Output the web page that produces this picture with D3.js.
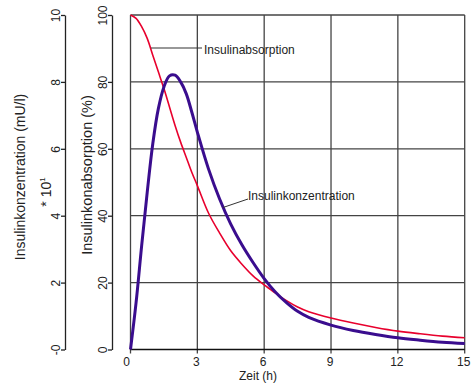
<!DOCTYPE html>
<html>
<head>
<meta charset="utf-8">
<script src="https://cdn.jsdelivr.net/npm/d3@7"></script>
<style>
  body { margin: 0; background: #fff; }
  svg { font-family: "Liberation Sans", Arial, sans-serif; }
  .axis path, .axis line { stroke: #222; }
  .axis text { fill: #222; font-size: 12px; }
</style>
</head>
<body>
<div class="chart"></div>
<script>
var svgWidth = 471;
var svgHeight = 385;

// data
var zeit = [0, 0.25, 0.5, 0.75, 1, 1.25, 1.5, 1.75, 2, 2.25, 2.5, 2.75, 3, 3.5, 4, 4.5, 5, 5.5, 6, 6.5, 7, 7.5, 8, 9, 10, 11, 12, 13, 14, 15];
var absorption = [100, 99, 96.5, 93, 88, 83, 78, 72.5, 67, 62, 57.5, 53, 49, 40.8, 34.8, 29.5, 25.5, 22, 19.3, 16.9, 14.6, 12.7, 11.3, 9.4, 7.9, 6.6, 5.5, 4.7, 4.0, 3.5];
var konzentration = [0, 14, 31, 47, 61.5, 72, 78.5, 81.8, 82, 80, 76.5, 71, 65, 54, 45, 37.5, 31.3, 26, 21.2, 17.2, 14, 11.4, 9.6, 7.3, 5.7, 4.5, 3.5, 2.8, 2.2, 1.8];
var xTicks = [0, 3, 6, 9, 12, 15];
var pctTicks = [0, 20, 40, 60, 80, 100];
var concTicks = [0, 2, 4, 6, 8, 10];

var svg = d3.select(".chart")
  .append("svg")
  .attr("width", svgWidth)
  .attr("height", svgHeight);

var x = d3.scaleLinear().domain([0, 15]).range([130.5, 464.7]);
var yPct = d3.scaleLinear().domain([0, 100]).range([349.5, 15]);
var yConc = d3.scaleLinear().domain([0, 10]).range([349.5, 15]);

// grid
svg.append("g").selectAll("line.h")
  .data(pctTicks.slice(1))
  .enter().append("line")
  .attr("x1", x(0)).attr("x2", x(15))
  .attr("y1", d => yPct(d)).attr("y2", d => yPct(d))
  .attr("stroke", "#444").attr("stroke-width", 1.3);

svg.append("g").selectAll("line.v")
  .data(xTicks)
  .enter().append("line")
  .attr("x1", d => x(d)).attr("x2", d => x(d))
  .attr("y1", yPct(100)).attr("y2", yPct(0) + 4)
  .attr("stroke", "#444").attr("stroke-width", 1.3);

// x axis line
svg.append("line")
  .attr("x1", x(0)).attr("x2", x(15))
  .attr("y1", yPct(0)).attr("y2", yPct(0))
  .attr("stroke", "#111").attr("stroke-width", 1.5);

// x tick labels
svg.append("g").selectAll("text")
  .data(xTicks)
  .enter().append("text")
  .attr("x", d => x(d) + (d === 0 ? -4 : -1))
  .attr("y", 366)
  .attr("text-anchor", "middle")
  .attr("font-size", 12)
  .attr("fill", "#222")
  .text(d => d);

svg.append("text")
  .attr("x", 258).attr("y", 380)
  .attr("text-anchor", "middle")
  .attr("font-size", 12)
  .attr("fill", "#222")
  .text("Zeit (h)");

// left axes with rotated labels
function rotLabels(g) {
  g.select(".domain").attr("stroke-width", 1.3);
  g.selectAll(".tick line").attr("stroke-width", 1.3);
  g.selectAll(".tick text")
    .attr("transform", "rotate(-90)")
    .attr("x", 0).attr("y", -9)
    .attr("dy", "0.35em")
    .attr("text-anchor", "middle");
}

svg.append("g")
  .attr("class", "axis")
  .attr("transform", "translate(112,0)")
  .call(d3.axisLeft(yPct).tickValues(pctTicks).tickSize(4).tickSizeOuter(0))
  .call(rotLabels);

svg.append("g")
  .attr("class", "axis")
  .attr("transform", "translate(65,0)")
  .call(d3.axisLeft(yConc).tickValues(concTicks).tickSize(4).tickSizeOuter(0)
    .tickFormat(d => d === 0 ? "-0" : d))
  .call(rotLabels);

// axis titles
svg.append("text")
  .attr("transform", "translate(25,177) rotate(-90)")
  .attr("text-anchor", "middle")
  .attr("font-size", 14).attr("fill", "#222")
  .text("Insulinkonzentration (mU/l)");

var mult = svg.append("text")
  .attr("transform", "translate(51,192) rotate(-90)")
  .attr("text-anchor", "middle")
  .attr("font-size", 14).attr("fill", "#222");
mult.append("tspan").text("* 10");
mult.append("tspan").attr("font-size", 8).attr("dy", -6).text("1");

svg.append("text")
  .attr("transform", "translate(92,175) rotate(-90)")
  .attr("text-anchor", "middle")
  .attr("font-size", 14.5).attr("fill", "#222")
  .text("Insulinkonabsorption (%)");

// curves
var line = d3.line().curve(d3.curveCatmullRom.alpha(0.5));

svg.append("path")
  .attr("d", line(zeit.map((t, i) => [x(t), yPct(absorption[i])])))
  .attr("fill", "none")
  .attr("stroke", "#e8002d")
  .attr("stroke-width", 1.6);

svg.append("path")
  .attr("d", line(zeit.map((t, i) => [x(t), yPct(konzentration[i])])))
  .attr("fill", "none")
  .attr("stroke", "#3a0d8e")
  .attr("stroke-width", 3);

// annotations
svg.append("line")
  .attr("x1", 151).attr("x2", 202).attr("y1", 48).attr("y2", 48)
  .attr("stroke", "#333").attr("stroke-width", 1.2);
svg.append("text")
  .attr("x", 204).attr("y", 54)
  .attr("font-size", 12).attr("fill", "#222")
  .text("Insulinabsorption");

svg.append("line")
  .attr("x1", 223).attr("x2", 248).attr("y1", 207.5).attr("y2", 199)
  .attr("stroke", "#333").attr("stroke-width", 1);
svg.append("text")
  .attr("x", 248).attr("y", 200)
  .attr("font-size", 12).attr("fill", "#222")
  .text("Insulinkonzentration");
</script>
</body>
</html>
